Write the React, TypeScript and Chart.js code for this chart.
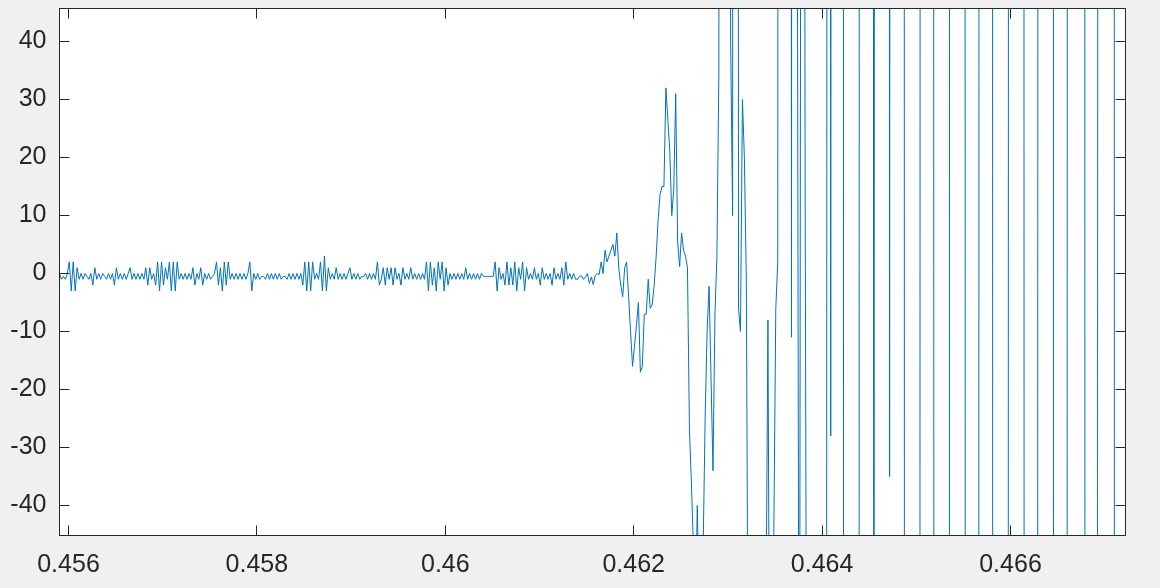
import React, { useEffect, useRef } from "react";
import { Chart, registerables } from "chart.js";

Chart.register(...registerables);

// Sampling grid of the signal (48 kHz) and the visible window
const T0 = 0.4559042;
const FS = 48000;
const X_MIN = 0.45590446;
const X_MAX = 0.46722081;
const Y_MIN = -45.17;
const Y_MAX = 45.69;

const xTickValues = [0.456, 0.458, 0.46, 0.462, 0.464, 0.466];
const xTickLabels = ["0.456", "0.458", "0.46", "0.462", "0.464", "0.466"];
const yTickValues = [-40, -30, -20, -10, 0, 10, 20, 30, 40];
const yTickLabels = ["-40", "-30", "-20", "-10", "0", "10", "20", "30", "40"];

// Quiet part: low-level noise
const noise = [
  0, -1, -0.5, -1, 0, 2, -3, 2, -3, 1,
  -1, 0, -1, 0, -0.5, -1, 0, -2, 1, -1,
  0, -1, 0, -0.5, -1, 0, -1, 0, -2, 1,
  -1, 0, -1, 0, -1, 0, 1, -1, 0, -1,
  0, -1, 0, -1, 1, -2, 1, -1, 0, -2,
  2, -3, 2, -2, 1, -1, 2, -3, 2, -3,
  2, -1, 0, -1, 0, -1, 0, -1, 1, -2,
  0, -1, 1, -2, 0, -1, 0, -1, -0.5, 0,
  2, -2, 1, -3, 2, -2, 2, -1, 0, -1,
  0, -1, 0, -1, 0, -1, 0, 2, -3, 0,
  -1, 0, -1, -0.5, -0.5, -1, 0, -1, 0, -1,
  0, -1, 0, -1, -0.5, -0.5, -1, 0, -1, 0,
  -1, 0, -1, 0, -2, 2, -3, 2, -3, 2,
  -1, 0, -1, 2, -3, 3, -3, 1, -1, 0,
  -1, 1, -1, 0, -1, 0, -1, 0, 1, -1,
  0, -1, 0, -1, -0.5, -0.5, 0, -1, 0, -1,
  0, -1, 2, -2, -1, 1, -2, 1, -1, 1,
  -2, 1, -1, 0, -2, 1, -1, 0, -1, 1,
  -1, 0, -1, 0, -1, 0, -1, 2, -3, 2,
  -2, 1, -3, 2, -1, 2, -3, 1, -2, 0,
  -1, 0, -1, 0, -1, 0, -1, 1, -1, 0,
  -1, 0, -1, 0, -1, 0, -0.5, -0.5, -0.5, -0.5,
  -0.5, -0.5, 2, -3, 1, -1, 0, -2, 2, -2,
  1, -2, 2, -3, 1, -1, 2, -3, 1, -1,
  0, -1, 1, -1, 0, -2, 1, -1, 0, -1,
  0, -2, 1, -1, 0, -1, 1, -2, 2, -1,
  0, -1, 0, -1, -1, -0.5, -0.4, -1, -0.6, 0,
  -1.7, -0.6, -1.9, -0.3,
];

// Onset of the oscillation
const onset = [
  0, -0.2, 2, 0, 4, 2, 3, 4, 5, 3,
  7, 1, -2, -4, 1, 2, -4, -10, -16, -12.6,
  -9, -5, -17, -16, -7, -7, -1, -6, -5.4, -2.2,
  2.7, 9, 13.6, 15, 15, 32, 26.5, 21, 10, 14.4,
  31, 5.3, 1.2, 7, 4, 3, 1, -27, -36, -47,
  -60, -40, -60, -60, -47, -25, -10, -2.2, -18, -34,
  -7, 3, 35,
];

// Unstable part: samples far outside the visible range
const blowup = [
  900, 900, 900, 900, 900,
  40, 10, 900, 900, -6, -10, 30, 20, -1.4, -80,
  -900, -900, -900, -900, -900, -900, -900, -900,
  -60, -8, -90, -900, -45, -6, 2,
  900, 900, 900, 900, 900, 900,
  -11, 900, 900, 60, -120, 150, 200, 10, -120,
  -900, -900, -900, -900, -900, -900, -900, -900, -900,
  22, 900, -28, 900, 900, 900, 900, 900, 900,
  -900, -900, -900, -900, -900, -900, -900, -900,
  900, 900, 900, 900, 900, 900, 900,
  -200,
  900, 900, 900, 900, 900, 900, 900,
  -35,
  900, 900, 900, 900, 900, 900, 900,
  -900, -900, -900, -900, -900, -900, -900, -900,
  900, 900, 900, 900, 900, 900, 900,
  -900, -900, -900, -900, -900, -900, -900, -900,
  900, 900, 900, 900, 900, 900, 900, 900,
  -900, -900, -900, -900, -900, -900, -900,
  900, 900, 900, 900, 900, 900, 900,
  -900, -900, -900, -900, -900, -900, -900, -900,
  900, 900, 900, 900, 900, 900, 900, 900,
  -900, -900, -900, -900, -900, -900, -900,
  900, 900, 900, 900, 900, 900, 900, 900,
  -900, -900, -900, -900, -900, -900, -900,
  900, 900, 900, 900, 900, 900, 900, 900, 900,
  -900, -900, -900, -900, -900, -900,
  0,
  900, 900, 900, 900, 900, 900, 900, 900,
  -900, -900, -900, -900, -900, -900, -900,
];

const AXIS_COLOR = "#262626";
const FONT = { family: "'Liberation Sans', Arial, Helvetica, sans-serif", size: 25 };

export default function App() {
  const ref = useRef<HTMLCanvasElement | null>(null);

  useEffect(() => {
    document.body.style.margin = "0";
    const canvas = ref.current;
    if (!canvas) return;
    const ys = [...noise, ...onset, ...blowup];
    const points = ys.map((y, i) => ({ x: T0 + i / FS, y }));

    const framePlugin = {
      id: "matlabFrame",
      beforeDraw(chart: any) {
        const { ctx, chartArea } = chart;
        ctx.save();
        ctx.fillStyle = "#ffffff";
        ctx.fillRect(chartArea.left, chartArea.top, chartArea.right - chartArea.left, chartArea.bottom - chartArea.top);
        ctx.restore();
      },
      afterDraw(chart: any) {
        const { ctx, chartArea } = chart;
        const { left, top, right, bottom } = chartArea;
        const xs = chart.scales.x;
        const ysc = chart.scales.y;
        ctx.save();
        ctx.strokeStyle = AXIS_COLOR;
        ctx.lineWidth = 1;
        ctx.beginPath();
        for (const v of xTickValues) {
          const px = Math.round(xs.getPixelForValue(v) - 0.5) + 0.5;
          ctx.moveTo(px, bottom);
          ctx.lineTo(px, bottom - 10);
          ctx.moveTo(px, top);
          ctx.lineTo(px, top + 10);
        }
        for (const v of yTickValues) {
          const py = Math.round(ysc.getPixelForValue(v) - 0.5) + 0.5;
          ctx.moveTo(left, py);
          ctx.lineTo(left + 10, py);
          ctx.moveTo(right, py);
          ctx.lineTo(right - 10, py);
        }
        ctx.stroke();
        ctx.strokeRect(left, top, right - left, bottom - top);
        ctx.restore();
      },
    };

    const chart = new Chart(canvas, {
      type: "line",
      data: {
        datasets: [
          {
            data: points,
            borderColor: "#0072BD",
            borderWidth: 1,
            pointRadius: 0,
            tension: 0,
            fill: false,
          },
        ],
      },
      options: {
        responsive: false,
        animation: false,
        devicePixelRatio: 1,
        layout: { padding: { top: 8.5, right: 34.5, left: 0, bottom: 0 } },
        plugins: { legend: { display: false }, tooltip: { enabled: false }, title: { display: false } },
        scales: {
          x: {
            type: "linear",
            min: X_MIN,
            max: X_MAX,
            grid: { display: false, drawTicks: false },
            border: { display: false },
            ticks: {
              autoSkip: false,
              maxRotation: 0,
              color: AXIS_COLOR,
              font: FONT,
              padding: 15,
              callback: (_v: any, i: number) => xTickLabels[i],
            },
            afterBuildTicks: (scale: any) => {
              scale.ticks = xTickValues.map((v) => ({ value: v }));
            },
            afterFit: (scale: any) => {
              scale.height = 52.5;
              scale.paddingLeft = 0;
              scale.paddingRight = 0;
              scale.paddingTop = 0;
              scale.paddingBottom = 0;
            },
          },
          y: {
            type: "linear",
            min: Y_MIN,
            max: Y_MAX,
            grid: { display: false, drawTicks: false },
            border: { display: false },
            ticks: {
              autoSkip: false,
              color: AXIS_COLOR,
              font: FONT,
              padding: 13,
              callback: (_v: any, i: number) => yTickLabels[i],
            },
            afterBuildTicks: (scale: any) => {
              scale.ticks = yTickValues.map((v) => ({ value: v }));
            },
            afterFit: (scale: any) => {
              scale.width = 59.5;
              scale.paddingLeft = 0;
              scale.paddingRight = 0;
              scale.paddingTop = 0;
              scale.paddingBottom = 0;
            },
          },
        },
      },
      plugins: [framePlugin],
    } as any);

    return () => chart.destroy();
  }, []);

  return (
    <div style={{ width: 1160, height: 588, background: "#f0f0f0" }}>
      <canvas ref={ref} width={1160} height={588} style={{ display: "block" }} />
    </div>
  );
}
